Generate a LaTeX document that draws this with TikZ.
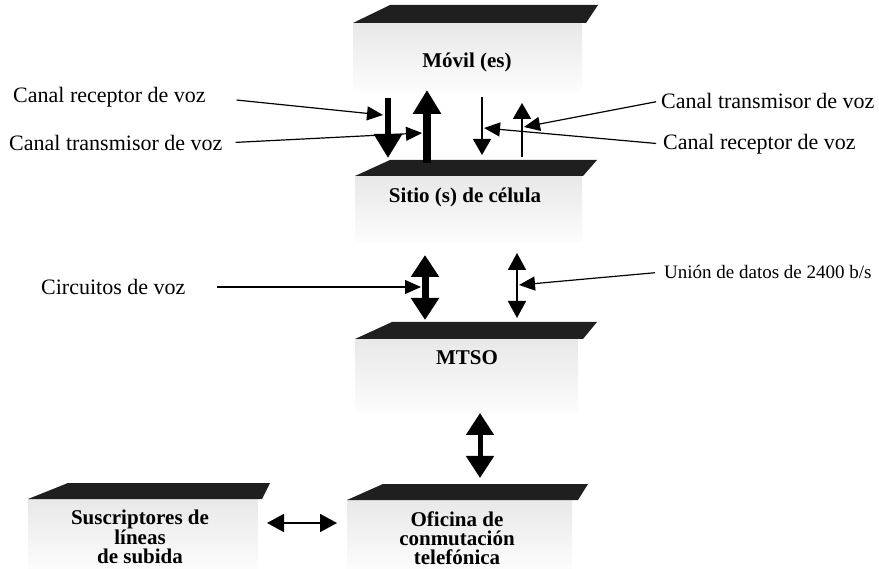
\documentclass[tikz,border=0pt]{standalone}
\usepackage{fontspec}
\setmainfont{Liberation Serif}
\usetikzlibrary{arrows.meta}

\tikzset{
  lid/.style={fill=black!88},
  body/.style={top color=black!9, bottom color=black!1},
  lbl/.style={font=\fontsize{22}{26}\selectfont, inner sep=1pt},
  boxlbl/.style={font=\fontsize{21}{19}\selectfont\bfseries, align=center, inner sep=1pt},
  fatarr/.style={line width=6pt, -{Triangle[width=27pt,length=24pt]}},
  fatdbl/.style={line width=6pt, {Triangle[width=27pt,length=22pt]}-{Triangle[width=27pt,length=22pt]}},
  slimarr/.style={line width=1.6pt, -{Triangle[width=18pt,length=16pt]}},
  slimdbl/.style={line width=1.8pt, {Triangle[width=18pt,length=17pt]}-{Triangle[width=18pt,length=17pt]}},
  lblarr/.style={line width=1.2pt, -{Triangle[width=14pt,length=16pt]}}
}

\begin{document}
\begin{tikzpicture}[x=1pt,y=-1pt]
        \useasboundingbox (0,0) rectangle (879,569);

        % boxes
        \fill[body] (353,23) rectangle (582,92);
        \fill[lid] (353,23) -- (390,5) -- (598,5) -- (586,23) -- cycle;
        \fill[body] (355,176) rectangle (582,242);
        \fill[lid] (355,176) -- (390,160) -- (597,160) -- (583,176) -- cycle;
        \fill[body] (355,339) rectangle (578,413);
        \fill[lid] (355,339) -- (392,322) -- (597,322) -- (583,339) -- cycle;
        \fill[body] (28,499) rectangle (258,569);
        \fill[lid] (28,499) -- (68,483) -- (270,483) -- (262,499) -- cycle;
        \fill[body] (347,500) rectangle (572,569);
        \fill[lid] (347,500) -- (383,484) -- (588,484) -- (578,500) -- cycle;

        \node[boxlbl] (movil) at (467,62) {Móvil (es)};
        \node[boxlbl] (sitio) at (465,197) {Sitio (s) de célula};
        \node[boxlbl] (mtso) at (467,358) {MTSO};
        \node[boxlbl] (suscr) at (140,537) {Suscriptores de\\líneas\\de subida};
        \node[boxlbl] (oficina) at (457,538) {Oficina de\\conmutación\\telefónica};

        % labels
        \node[lbl, anchor=west] (recL) at (12,97) {Canal receptor de voz};
        \node[lbl, anchor=west] (traL) at (8,143) {Canal transmisor de voz};
        \node[lbl, anchor=west] (traR) at (660,101) {Canal transmisor de voz};
        \node[lbl, anchor=west] (recR) at (662,144) {Canal receptor de voz};
        \node[lbl, anchor=west] (circ) at (40,287) {Circuitos de voz};
        \node[lbl, anchor=west, font=\fontsize{19}{22}\selectfont] (union) at (663,272) {Unión de datos de 2400 b/s};

        % arrow ends
        \coordinate (a1s) at (388,98);   \coordinate (a1e) at (388,158);
        \coordinate (a2s) at (427,163);  \coordinate (a2e) at (427,90);
        \coordinate (a3s) at (482,97);   \coordinate (a3e) at (482,155);
        \coordinate (a4s) at (522,157);  \coordinate (a4e) at (522,103);
        \coordinate (a5s) at (425,255);  \coordinate (a5e) at (425,320);
        \coordinate (a6s) at (517,253);  \coordinate (a6e) at (517,318);
        \coordinate (a7s) at (480,413);  \coordinate (a7e) at (480,478);
        \coordinate (a8s) at (267,523);  \coordinate (a8e) at (337,523);

        \draw[fatarr] (a1s) -- (a1e);
        \draw[fatarr, line width=8pt] (a2s) -- (a2e);
        \draw[slimarr] (a3s) -- (a3e);
        \draw[slimarr, line width=2pt] (a4s) -- (a4e);
        \draw[fatdbl, line width=7pt] (a5s) -- (a5e);
        \draw[slimdbl] (a6s) -- (a6e);
        \draw[fatdbl, line width=5pt] (a7s) -- (a7e);
        \draw[slimdbl] (a8s) -- (a8e);

        % label pointers
        \coordinate (tA) at (383,115);
        \coordinate (tB) at (422,133);
        \coordinate (tC) at (524,127);
        \coordinate (tD) at (484,128);
        \coordinate (tE) at (421,287);
        \coordinate (tF) at (519,285);
        \draw[lblarr, shorten <=30pt] (recL.east) -- (tA);
        \draw[lblarr, shorten <=12pt] (traL.east) -- (tB);
        \draw[lblarr, shorten <=4pt] (traR.west) -- (tC);
        \draw[lblarr, shorten <=6pt] (recR.west) -- (tD);
        \draw[lblarr, shorten <=30pt] (circ.east) -- (tE);
        \draw[lblarr, shorten <=8pt] (union.west) -- (tF);
      \end{tikzpicture}
\end{document}
